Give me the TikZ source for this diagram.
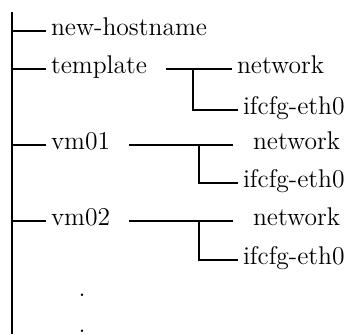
\documentclass[tikz,border=0pt]{standalone}
\begin{document}
\begin{tikzpicture}[x=0.5pt,y=-0.5pt,line width=1pt,
    leaf/.style={anchor=mid west,inner sep=2pt,font=\fontsize{12.8}{15}\selectfont}]
\useasboundingbox (0,0) rectangle (346,334);

% trunk
\coordinate (top) at (12,12);
\coordinate (bot) at (12,334);
\draw (top)--(bot);

\node[leaf] (host) at (46,31) {new-hostname};
\node[leaf] (tmpl) at (46,69) {template};
\node[leaf] (vma) at (46,145) {vm01};
\node[leaf] (vmb) at (46,221) {vm02};

\draw (host.mid west -| top)--(host.mid west);
\draw (tmpl.mid west -| top)--(tmpl.mid west);
\draw (vma.mid west -| top)--(vma.mid west);
\draw (vmb.mid west -| top)--(vmb.mid west);

% template
\node[leaf] (tnet) at (232,69) {network};
\node[leaf] (tif) at (238,110) {ifcfg-eth0};
\coordinate (tjoint) at (193,69);
\draw ([xshift=7pt]tmpl.mid east)--(tnet.mid west);
\draw (tjoint)|-(tif.mid west);

% vm01
\node[leaf] (anet) at (248,145) {network};
\node[leaf] (aif) at (238,183) {ifcfg-eth0};
\coordinate (ajoint) at (199,145);
\draw ([xshift=7pt]vma.mid east)--([xshift=-7.5pt]anet.mid west);
\draw (ajoint)|-(aif.mid west);

% vm02
\node[leaf] (bnet) at (248,221) {network};
\node[leaf] (bif) at (238,260) {ifcfg-eth0};
\coordinate (bjoint) at (199,221);
\draw ([xshift=7pt]vmb.mid east)--([xshift=-7.5pt]bnet.mid west);
\draw (bjoint)|-(bif.mid west);

\node[anchor=base,inner sep=0pt,font=\fontsize{12.8}{15}\selectfont] (dota) at (82,296) {.};
\node[anchor=base,inner sep=0pt,font=\fontsize{12.8}{15}\selectfont] (dotb) at (82,332) {.};

\end{tikzpicture}
\end{document}
